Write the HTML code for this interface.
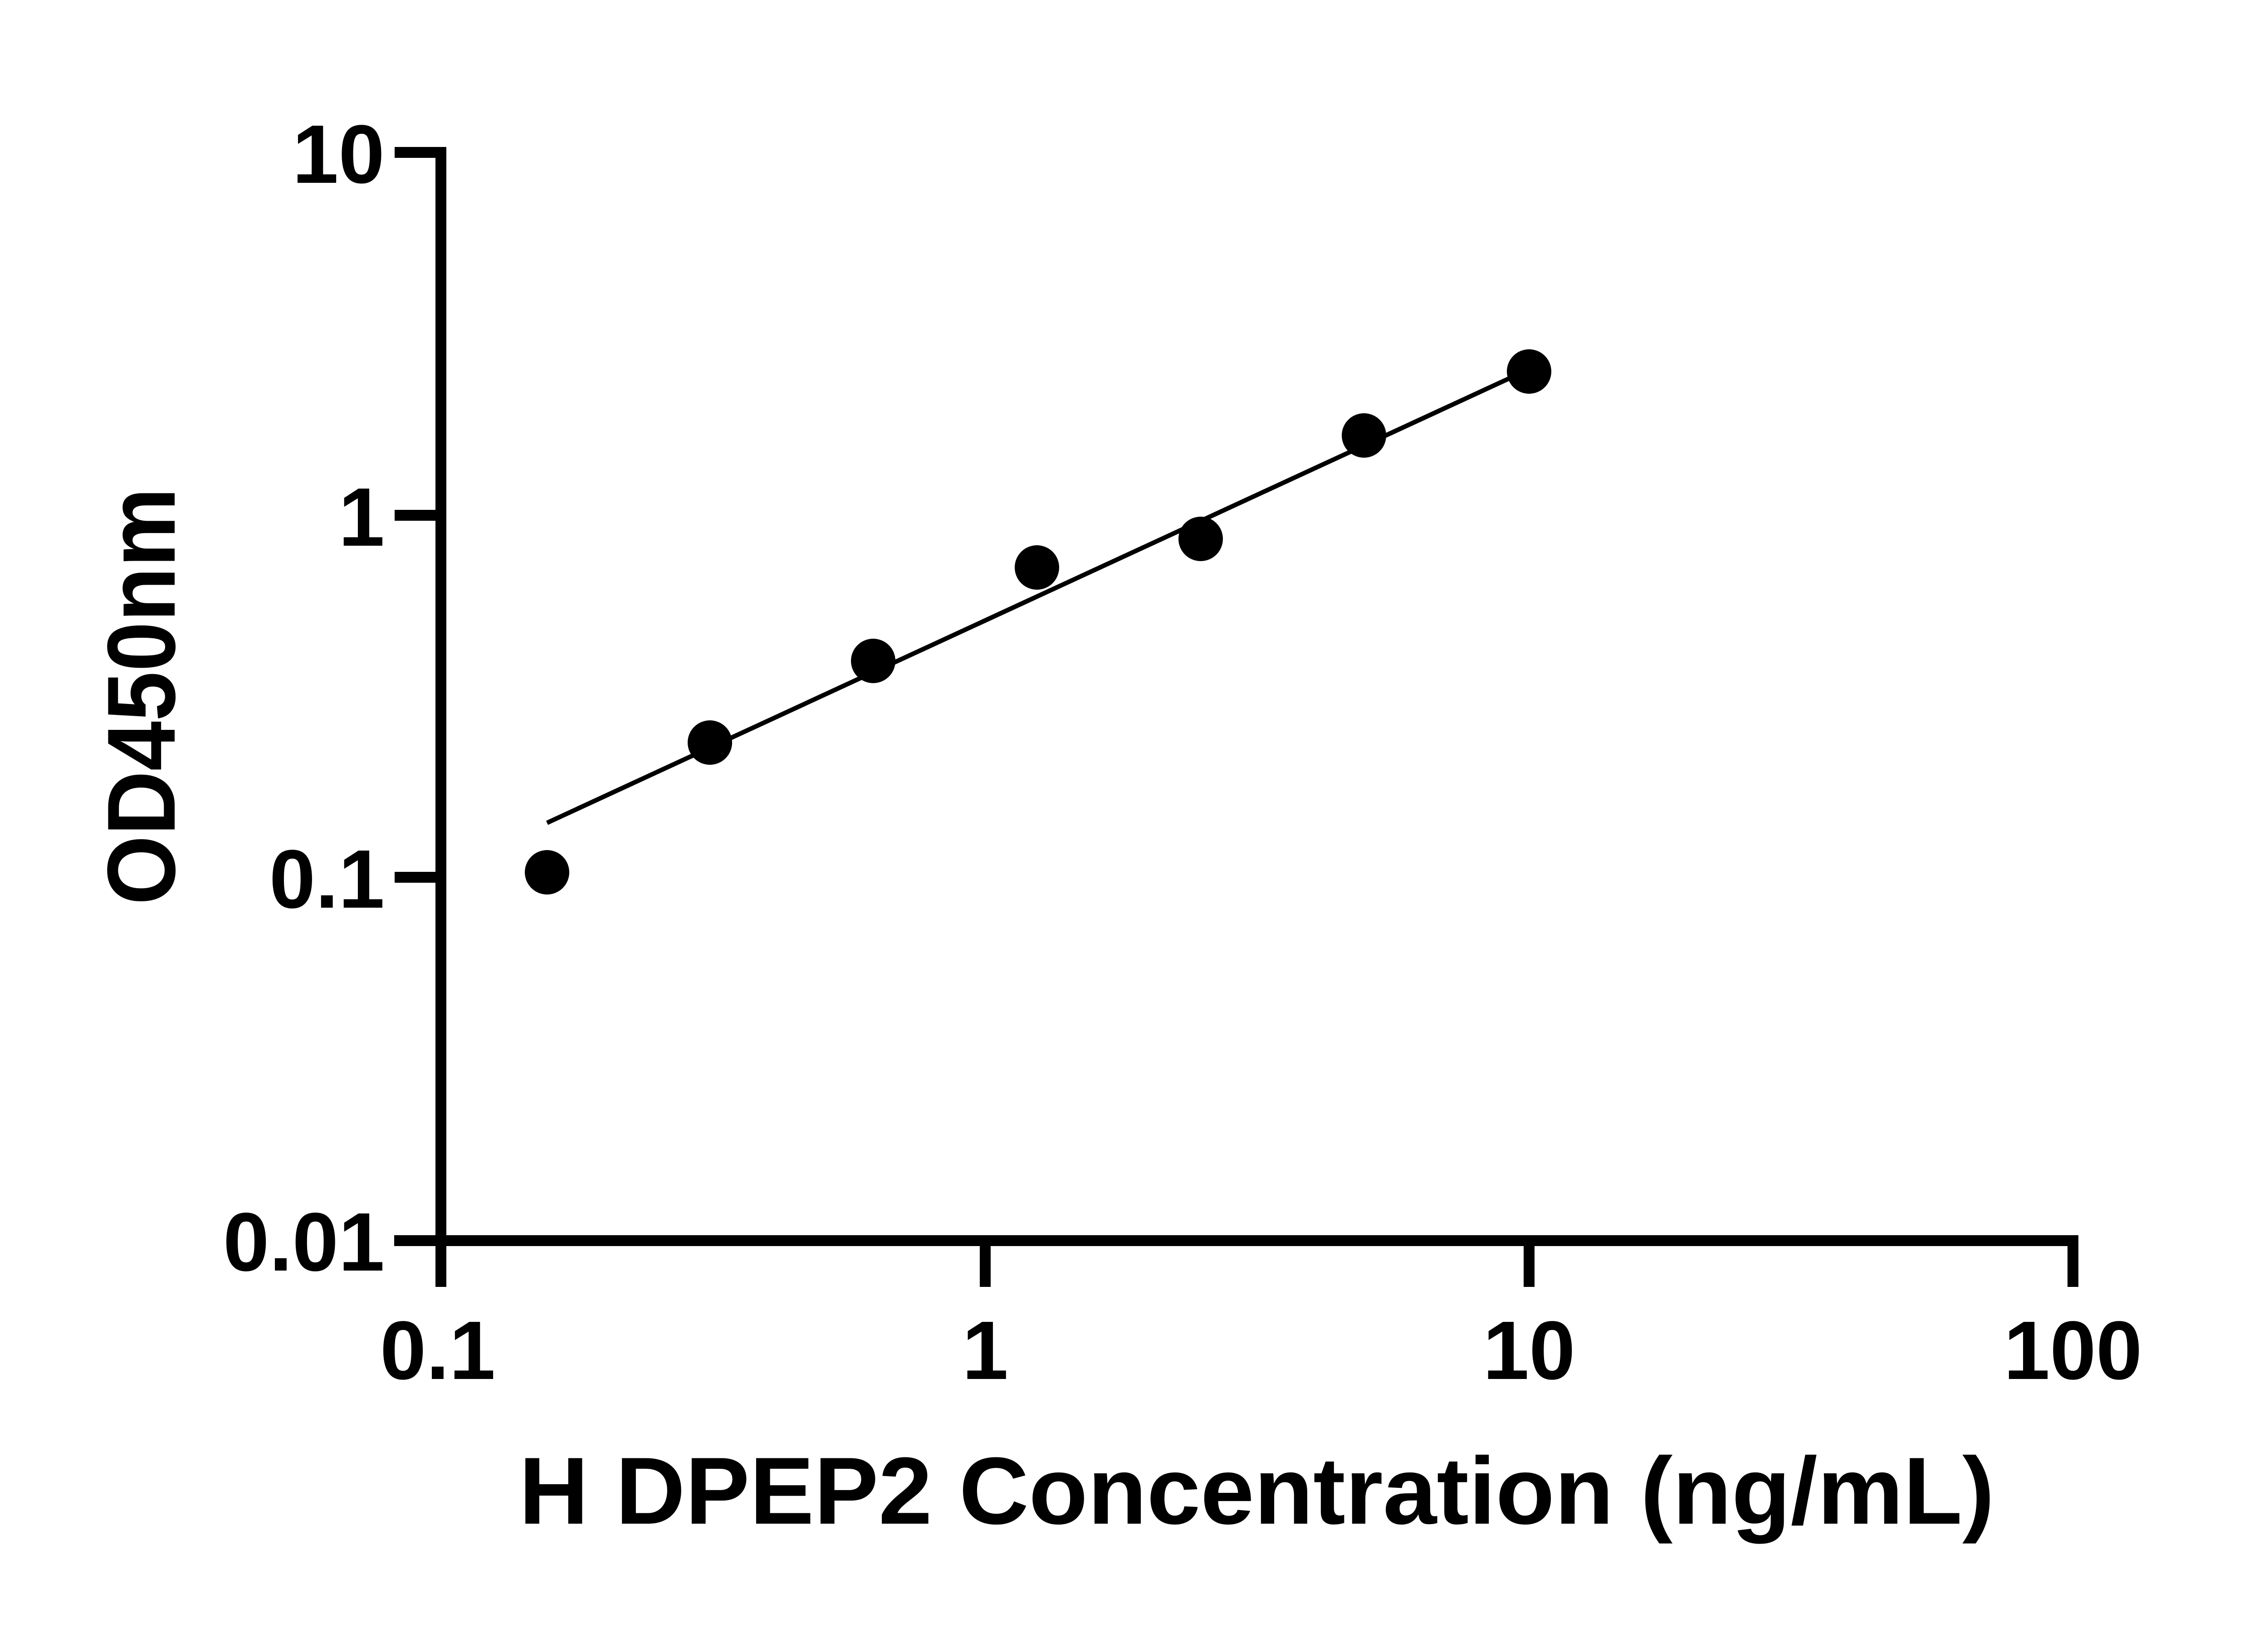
<!DOCTYPE html>
<html><head><meta charset="utf-8"><style>html,body{margin:0;padding:0;background:#fff}svg{display:block}</style></head>
<body>
<svg width="5124" height="3600" viewBox="0 0 5124 3600" xmlns="http://www.w3.org/2000/svg">
<rect width="5124" height="3600" fill="#fff"/>
<g stroke="#000" stroke-width="24" fill="none" stroke-linecap="butt">
<line x1="972" y1="324" x2="972" y2="2837"/>
<line x1="869" y1="2735" x2="4582" y2="2735"/>
<line x1="870" y1="336" x2="984" y2="336"/>
<line x1="870" y1="1136" x2="972" y2="1136"/>
<line x1="870" y1="1934" x2="972" y2="1934"/>
<line x1="2172" y1="2735" x2="2172" y2="2837"/>
<line x1="3371" y1="2735" x2="3371" y2="2837"/>
<line x1="4570" y1="2723" x2="4570" y2="2837"/>
</g>
<g font-family="Liberation Sans, Arial, sans-serif" font-weight="bold" font-size="183" fill="#000">
<text x="848" y="403" text-anchor="end">10</text>
<text x="848" y="1203" text-anchor="end">1</text>
<text x="848" y="2001" text-anchor="end">0.1</text>
<text x="848" y="2801" text-anchor="end">0.01</text>
<text x="965" y="3040" text-anchor="middle">0.1</text>
<text x="2172" y="3040" text-anchor="middle">1</text>
<text x="3371" y="3040" text-anchor="middle">10</text>
<text x="4570" y="3040" text-anchor="middle">100</text>
</g>
<text x="1144" y="3359" font-family="Liberation Sans, Arial, sans-serif" font-weight="bold" font-size="210" textLength="3253" lengthAdjust="spacingAndGlyphs">H DPEP2 Concentration (ng/mL)</text>
<text transform="translate(385,1535) rotate(-90)" text-anchor="middle" font-family="Liberation Sans, Arial, sans-serif" font-weight="bold" font-size="213" textLength="920" lengthAdjust="spacingAndGlyphs">OD450nm</text>
<line x1="1206" y1="1814" x2="3371" y2="814" stroke="#000" stroke-width="10"/>
<g fill="#000">
<circle cx="1206" cy="1923" r="49"/>
<circle cx="1565" cy="1637" r="49"/>
<circle cx="1925" cy="1457" r="49"/>
<circle cx="2286" cy="1251" r="49"/>
<circle cx="2647" cy="1188" r="49"/>
<circle cx="3007" cy="960" r="49"/>
<circle cx="3371" cy="819" r="49"/>
</g>
</svg>
</body></html>
